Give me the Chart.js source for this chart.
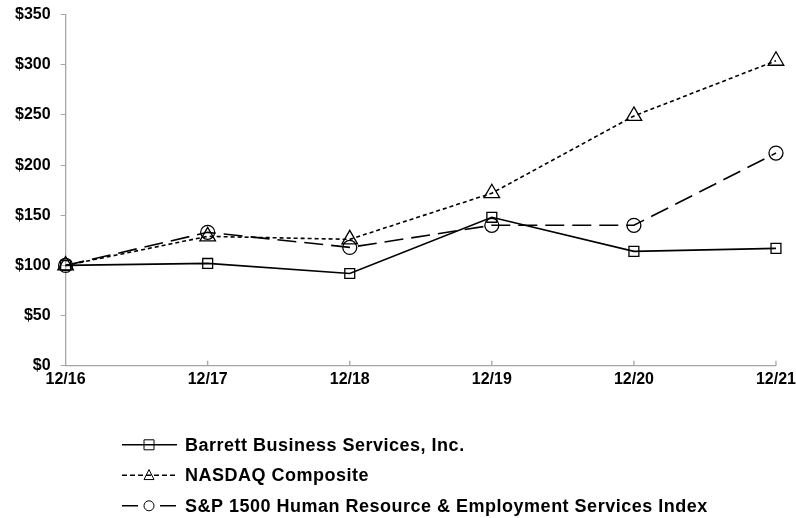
<!DOCTYPE html>
<html>
<head>
<meta charset="utf-8">
<script src="https://cdn.jsdelivr.net/npm/chart.js@4.4.1/dist/chart.umd.min.js"></script>
<style>
  html, body { margin: 0; padding: 0; background: #fff; }
  #wrap { width: 796px; height: 518px; }
</style>
</head>
<body>
<div id="wrap"><canvas id="myChart"></canvas></div>
<script>
const years = ['12/16', '12/17', '12/18', '12/19', '12/20', '12/21']
const bbsi = [100, 102, 92, 148, 114, 117]
const nasdaq = [100, 129, 126, 172, 249, 304]
const spHr = [100, 133, 118, 140, 140, 212]
const seriesNames = [
    'Barrett Business Services, Inc.',
    'NASDAQ Composite',
    'S&P 1500 Human Resource & Employment Services Index',
]

const axisGray = '#a6a6a6'
const family = '"Liberation Sans", Arial, sans-serif'

function drawMarker(ctx, style, x, y, r) {
    ctx.beginPath()
    if (style === 'rect') {
        ctx.rect(x - r, y - r, r * 2, r * 2)
    } else if (style === 'triangle') {
        ctx.moveTo(x, y - r * 1.15)
        ctx.lineTo(x + r, y + r * 0.85)
        ctx.lineTo(x - r, y + r * 0.85)
        ctx.closePath()
    } else {
        ctx.arc(x, y, r, 0, Math.PI * 2)
    }
    ctx.stroke()
}

// small x ticks pointing up into the plot
const innerTicks = {
    id: 'innerTicks',
    afterDraw(chart) {
        const ctx = chart.ctx
        const xs = chart.scales.x
        const bottom = chart.chartArea.bottom
        ctx.save()
        ctx.strokeStyle = axisGray
        ctx.lineWidth = 1.3
        xs.ticks.forEach((t, i) => {
            if (i === 0) return
            const x = xs.getPixelForTick(i)
            ctx.beginPath()
            ctx.moveTo(x, bottom)
            ctx.lineTo(x, bottom - 5)
            ctx.stroke()
        })
        ctx.restore()
    }
}

// legend under the plot: line sample with marker, then name
const bottomLegend = {
    id: 'bottomLegend',
    afterDraw(chart) {
        const ctx = chart.ctx
        const top = chart.chartArea.bottom + 79
        ctx.save()
        chart.data.datasets.forEach((ds, i) => {
            const y = top + i * 30.5
            ctx.strokeStyle = '#000'
            ctx.lineWidth = 1.6
            ctx.setLineDash(ds.legendDash || [])
            ctx.beginPath()
            ctx.moveTo(122, y)
            ctx.lineTo(177, y)
            ctx.stroke()
            ctx.setLineDash([])
            ctx.lineWidth = 1
            drawMarker(ctx, ds.pointStyle, 149, y, 5)
            ctx.fillStyle = '#000'
            ctx.font = 'bold 18px ' + family
            ctx.letterSpacing = '0.5px'
            ctx.textBaseline = 'middle'
            ctx.fillText(ds.label, 185, y + 1)
        })
        ctx.restore()
    }
}

const ctx = document.getElementById('myChart').getContext('2d')
const myChart = new Chart(ctx, {
    type: 'line',
    data: {
        labels: years,
        datasets: [
            {
                label: seriesNames[0],
                data: bbsi,
                borderColor: '#000',
                borderWidth: 1.7,
                pointStyle: 'rect',
                pointRadius: 7,
                pointBackgroundColor: 'rgba(255,255,255,0)',
                pointBorderColor: '#000',
                pointBorderWidth: 1.3,
                order: 1,
            },
            {
                label: seriesNames[1],
                data: nasdaq,
                borderColor: '#000',
                borderWidth: 1.6,
                borderDash: [4, 3],
                legendDash: [5, 3],
                pointStyle: 'triangle',
                pointRadius: 9,
                pointBackgroundColor: 'rgba(255,255,255,0)',
                pointBorderColor: '#000',
                pointBorderWidth: 1.3,
                order: 3,
            },
            {
                label: seriesNames[2],
                data: spHr,
                borderColor: '#000',
                borderWidth: 1.6,
                borderDash: [19, 8],
                legendDash: [16, 22],
                pointStyle: 'circle',
                pointRadius: 7,
                pointBackgroundColor: 'rgba(255,255,255,0)',
                pointBorderColor: '#000',
                pointBorderWidth: 1.3,
                order: 2,
            },
        ]
    },
    options: {
        responsive: true,
        maintainAspectRatio: false,
        animation: false,
        layout: { padding: { left: 5, top: 0, right: 0, bottom: 125 } },
        plugins: {
            legend: { display: false },
            tooltip: { enabled: false },
        },
        scales: {
            x: {
                offset: false,
                grid: { display: false, drawTicks: false },
                border: { color: axisGray, width: 1.3 },
                ticks: {
                    color: '#000',
                    font: { family: family, size: 16, weight: 'bold' },
                    padding: 4,
                    maxRotation: 0,
                },
                afterFit: (scale) => { scale.paddingRight = Math.max(0, scale.paddingRight - 4) },
            },
            y: {
                min: 0,
                max: 350,
                grid: { drawOnChartArea: false, drawTicks: true, tickLength: 5, color: axisGray },
                border: { color: axisGray, width: 1.3 },
                ticks: {
                    stepSize: 50,
                    color: '#000',
                    font: { family: family, size: 16, weight: 'bold' },
                    padding: 10,
                    callback: (v) => '$' + v,
                },
                afterFit: (scale) => { scale.paddingTop = Math.max(0, scale.paddingTop - 5) },
            },
        },
    },
    plugins: [innerTicks, bottomLegend],
})
</script>
</body>
</html>
